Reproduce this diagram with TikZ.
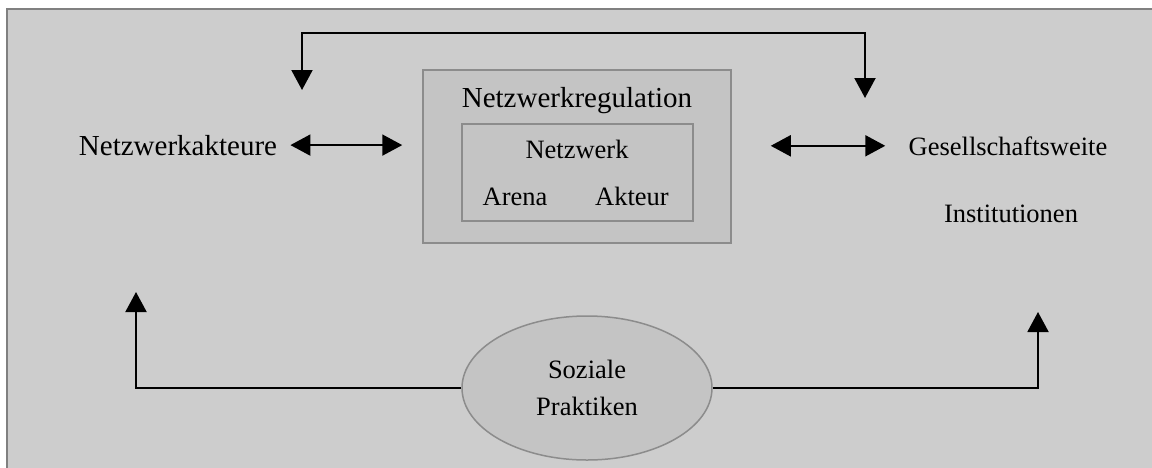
\documentclass[tikz,border=0pt]{standalone}
\usepackage{fontspec}
\setmainfont{Liberation Serif}
\usetikzlibrary{arrows.meta}
\usetikzlibrary{positioning}
\usetikzlibrary{shapes.geometric}
\definecolor{panel}{HTML}{CDCDCD}
\definecolor{boxfill}{HTML}{C4C4C4}
\definecolor{rim}{HTML}{8C8C8C}
\definecolor{frame}{HTML}{808080}

\tikzset{
	label/.style={inner sep=0pt, font=\fontsize{13.25pt}{16pt}\selectfont},
	regbox/.style={draw=rim, fill=boxfill, line width=0.75pt, inner sep=0pt},
	link/.style={line width=1pt, -{Triangle[length=10pt,width=10.5pt]}},
	both/.style={line width=1pt, {Triangle[length=10pt,width=10.5pt]}-{Triangle[length=10pt,width=10.5pt]}},
}

\begin{document}
\begin{tikzpicture}[x=0.5pt,y=-0.5pt]
	
	\clip (0,0) rectangle (1152,467);
	\fill[white] (0,0) rectangle (1152,467);
	\draw[frame, line width=1pt, fill=panel] (7,9) rectangle (1180,490);
	
	\node[regbox, minimum width=154pt, minimum height=86.5pt](regul) at (577,156.5){};
	\node[label, anchor=base, font=\fontsize{14.5pt}{17pt}\selectfont](regtitle) at (577,107){Netzwerkregulation};
	\node[regbox, minimum width=115.5pt, minimum height=48.5pt](netz) at (577.5,172.5){};
	\node[label, anchor=base](netztitle) at (577,158){Netzwerk};
	\node[label, anchor=base](arena) at (515,205){Arena};
	\node[label, anchor=base](akteur) at (632,205){Akteur};
	
	\node[label, anchor=base, font=\fontsize{14.5pt}{17pt}\selectfont](akteure) at (178,155){Netzwerkakteure};
	\node[label, anchor=base](gesell) at (1008,155){Gesellschaftsweite};
	\node[label, anchor=base](inst) at (1011,222){Institutionen};
	
	\node[ellipse, draw=rim, fill=boxfill, line width=0.75pt, inner sep=0pt,
	      minimum width=125pt, minimum height=72pt, align=center,
	      font=\fontsize{13.25pt}{18.5pt}\selectfont](praxis) at (587,388){Soziale\\Praktiken};
	
	\coordinate (dropL) at (302,90);
	\coordinate (dropR) at (865,98);
	\coordinate (riseL) at (136,292);
	\coordinate (riseR) at (1038,312);
	
	\draw[both, shorten <=6.5pt, shorten >=10pt] (akteure.east) -- (regul.west |- akteure.east);
	\draw[both, shorten <=19.5pt, shorten >=11.5pt] (regul.east |- gesell.west) -- (gesell.west);
	\draw[both] (dropL) -- (dropL |- 0,33) -| (dropR);
	
	\draw[link] (praxis.west) -| (riseL);
	\draw[link] (praxis.east) -| (riseR);
	
\end{tikzpicture}
\end{document}
